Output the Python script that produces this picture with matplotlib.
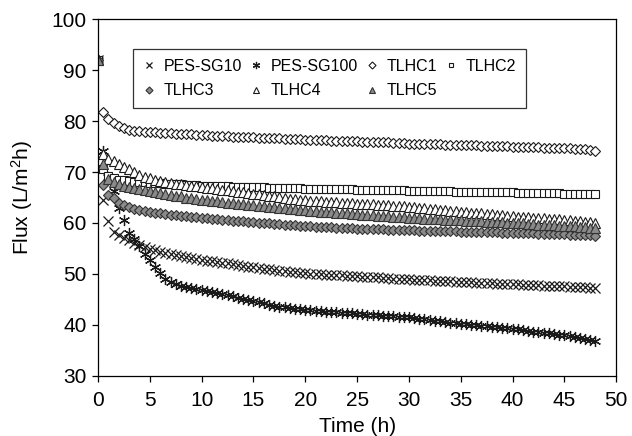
import numpy as np
import matplotlib.pyplot as plt

plt.rcParams['font.family'] = ['Liberation Sans', 'DejaVu Sans']
plt.rcParams['mathtext.fontset'] = 'custom'
plt.rcParams['mathtext.rm'] = 'Liberation Sans'
plt.rcParams['mathtext.default'] = 'regular'

# sampled every 0.5 h from 0 to 48 h
hours = np.arange(0, 48.5, 0.5)

pes_sg10 = [92.0, 64.5, 60.3, 58.2, 57.6, 57.1, 56.6, 56.1, 55.6, 55.2,
            54.9, 54.6, 54.3, 54.1, 53.9, 53.7, 53.5, 53.3, 53.1, 52.9,
            52.8, 52.6, 52.5, 52.4, 52.2, 52.1, 51.9, 51.8, 51.6, 51.4,
            51.3, 51.2, 51.0, 50.9, 50.7, 50.6, 50.5, 50.4, 50.3, 50.2,
            50.1, 50.0, 50.0, 49.9, 49.8, 49.8, 49.7, 49.7, 49.6, 49.6,
            49.5, 49.4, 49.4, 49.3, 49.3, 49.2, 49.2, 49.1, 49.1, 49.0,
            49.0, 48.9, 48.9, 48.8, 48.8, 48.7, 48.7, 48.6, 48.6, 48.5,
            48.5, 48.4, 48.4, 48.3, 48.3, 48.2, 48.2, 48.1, 48.1, 48.0,
            48.0, 48.0, 47.9, 47.9, 47.8, 47.8, 47.7, 47.7, 47.7, 47.6,
            47.6, 47.5, 47.5, 47.4, 47.4, 47.3, 47.2]

pes_sg100 = [92.0, 74.2, 69.0, 66.3, 62.9, 60.6, 58.0, 56.8, 55.4, 54.0,
             52.7, 51.3, 50.1, 49.1, 48.4, 48.0, 47.6, 47.4, 47.2, 47.0,
             46.8, 46.6, 46.4, 46.2, 46.0, 45.8, 45.6, 45.3, 45.1, 44.9,
             44.6, 44.4, 44.2, 44.0, 43.8, 43.6, 43.5, 43.3, 43.2, 43.1,
             43.0, 42.9, 42.8, 42.7, 42.6, 42.5, 42.5, 42.4, 42.3, 42.3,
             42.2, 42.1, 42.0, 42.0, 41.9, 41.8, 41.8, 41.7, 41.6, 41.6,
             41.5, 41.3, 41.2, 41.1, 40.9, 40.8, 40.7, 40.6, 40.4, 40.3,
             40.2, 40.1, 40.0, 39.9, 39.8, 39.7, 39.6, 39.5, 39.4, 39.3,
             39.2, 39.1, 39.0, 38.8, 38.7, 38.6, 38.5, 38.4, 38.3, 38.1,
             38.0, 37.9, 37.7, 37.5, 37.3, 37.1, 36.9]

tlhc1 = [92.0, 81.8, 80.4, 79.6, 79.0, 78.6, 78.3, 78.1, 78.0, 77.9,
         77.8, 77.8, 77.7, 77.6, 77.6, 77.5, 77.5, 77.4, 77.4, 77.3,
         77.2, 77.2, 77.1, 77.1, 77.0, 77.0, 76.9, 76.9, 76.9, 76.8,
         76.8, 76.7, 76.7, 76.7, 76.6, 76.6, 76.5, 76.5, 76.4, 76.4,
         76.3, 76.3, 76.3, 76.2, 76.2, 76.1, 76.1, 76.1, 76.0, 76.0,
         76.0, 75.9, 75.9, 75.9, 75.8, 75.8, 75.8, 75.7, 75.7, 75.7,
         75.6, 75.6, 75.6, 75.5, 75.5, 75.5, 75.5, 75.4, 75.4, 75.4,
         75.3, 75.3, 75.3, 75.3, 75.2, 75.2, 75.2, 75.1, 75.1, 75.1,
         75.0, 75.0, 75.0, 74.9, 74.9, 74.9, 74.8, 74.8, 74.8, 74.7,
         74.7, 74.7, 74.6, 74.6, 74.5, 74.4, 74.2]

tlhc2 = [92.0, 70.5, 69.3, 68.8, 68.5, 68.4, 68.2, 68.1, 68.0, 68.0,
         67.9, 67.8, 67.8, 67.7, 67.7, 67.6, 67.6, 67.5, 67.5, 67.4,
         67.3, 67.3, 67.3, 67.2, 67.2, 67.2, 67.1, 67.1, 67.1, 67.0,
         67.0, 67.0, 67.0, 66.9, 66.9, 66.9, 66.9, 66.8, 66.8, 66.8,
         66.7, 66.7, 66.7, 66.7, 66.7, 66.6, 66.6, 66.6, 66.6, 66.6,
         66.5, 66.5, 66.5, 66.5, 66.5, 66.4, 66.4, 66.4, 66.4, 66.4,
         66.3, 66.3, 66.3, 66.3, 66.2, 66.2, 66.2, 66.2, 66.2, 66.1,
         66.1, 66.1, 66.1, 66.1, 66.1, 66.0, 66.0, 66.0, 66.0, 66.0,
         66.0, 65.9, 65.9, 65.9, 65.9, 65.8, 65.8, 65.8, 65.8, 65.8,
         65.7, 65.7, 65.7, 65.7, 65.7, 65.6, 65.6]

tlhc3 = [92.0, 67.5, 65.5, 64.9, 64.0, 63.5, 63.1, 62.8, 62.6, 62.4,
         62.2, 62.0, 61.9, 61.7, 61.6, 61.5, 61.4, 61.3, 61.2, 61.1,
         61.0, 60.9, 60.8, 60.7, 60.6, 60.5, 60.4, 60.3, 60.3, 60.2,
         60.1, 60.0, 60.0, 59.9, 59.8, 59.8, 59.7, 59.6, 59.6, 59.5,
         59.4, 59.4, 59.3, 59.3, 59.2, 59.2, 59.1, 59.1, 59.0, 59.0,
         58.9, 58.9, 58.9, 58.8, 58.8, 58.8, 58.7, 58.7, 58.7, 58.6,
         58.6, 58.6, 58.5, 58.5, 58.5, 58.5, 58.4, 58.4, 58.4, 58.4,
         58.3, 58.3, 58.3, 58.3, 58.2, 58.2, 58.2, 58.2, 58.1, 58.1,
         58.1, 58.1, 58.0, 58.0, 58.0, 57.9, 57.9, 57.9, 57.8, 57.8,
         57.8, 57.7, 57.7, 57.7, 57.6, 57.6, 57.5]

tlhc4 = [92.0, 73.5, 72.6, 72.1, 71.6, 71.0, 70.5, 70.0, 69.5, 69.1,
         68.8, 68.5, 68.3, 68.1, 67.9, 67.7, 67.6, 67.4, 67.3, 67.2,
         67.1, 66.9, 66.8, 66.6, 66.5, 66.4, 66.2, 66.1, 66.0, 65.8,
         65.7, 65.6, 65.5, 65.3, 65.2, 65.1, 65.0, 64.8, 64.7, 64.6,
         64.5, 64.4, 64.4, 64.3, 64.2, 64.2, 64.1, 64.0, 64.0, 63.9,
         63.8, 63.8, 63.7, 63.7, 63.6, 63.5, 63.5, 63.4, 63.4, 63.3,
         63.2, 63.1, 63.0, 62.9, 62.8, 62.7, 62.6, 62.5, 62.4, 62.3,
         62.2, 62.1, 62.0, 62.0, 61.9, 61.8, 61.7, 61.6, 61.5, 61.4,
         61.3, 61.2, 61.2, 61.1, 61.0, 60.9, 60.9, 60.8, 60.7, 60.7,
         60.6, 60.5, 60.4, 60.3, 60.2, 60.1, 60.0]

tlhc5 = [92.0, 71.5, 68.6, 68.0, 67.6, 67.3, 67.1, 66.8, 66.6, 66.4,
         66.2, 66.0, 65.8, 65.6, 65.5, 65.3, 65.2, 65.0, 64.9, 64.8,
         64.6, 64.5, 64.4, 64.3, 64.2, 64.0, 63.9, 63.8, 63.7, 63.6,
         63.5, 63.4, 63.3, 63.2, 63.1, 63.0, 62.9, 62.8, 62.7, 62.6,
         62.5, 62.4, 62.3, 62.2, 62.2, 62.1, 62.0, 61.9, 61.9, 61.8,
         61.7, 61.6, 61.6, 61.5, 61.4, 61.4, 61.3, 61.2, 61.2, 61.1,
         61.0, 61.0, 60.9, 60.8, 60.8, 60.7, 60.7, 60.6, 60.6, 60.5,
         60.5, 60.4, 60.4, 60.3, 60.3, 60.2, 60.2, 60.1, 60.1, 60.0,
         60.0, 59.9, 59.9, 59.8, 59.8, 59.7, 59.7, 59.6, 59.6, 59.5,
         59.5, 59.4, 59.4, 59.3, 59.2, 59.1, 59.0]

fig = plt.figure(figsize=(6.32, 4.36), dpi=100)
ax = fig.add_axes([0.155, 0.138, 0.82, 0.818])

gray = "#8a8a8a"
edge = "#1a1a1a"
star = (6, 2, 0)  # asterisk-like marker

h1, = ax.plot(hours, pes_sg10, ls="none", marker="x", ms=7, mew=0.9, color=edge, label="PES-SG10")
h2, = ax.plot(hours, pes_sg100, ls="none", marker=star, ms=8, mew=0.9, color=edge, label="PES-SG100")
h3, = ax.plot(hours, tlhc1, ls="none", marker="D", ms=5.5, mew=0.8, mfc="white", mec=edge, label="TLHC1")
h4, = ax.plot(hours, tlhc2, ls="none", marker="s", ms=5.5, mew=0.8, mfc="white", mec=edge, label="TLHC2")
h5, = ax.plot(hours, tlhc3, ls="none", marker="D", ms=5.5, mew=0.8, mfc=gray, mec="#333333", label="TLHC3")
h6, = ax.plot(hours, tlhc4, ls="none", marker="^", ms=7, mew=0.8, mfc="white", mec=edge, label="TLHC4")
h7, = ax.plot(hours, tlhc5, ls="none", marker="^", ms=7, mew=0.8, mfc=gray, mec="#333333", label="TLHC5")

ax.set_xlim(0, 50)
ax.set_ylim(30, 100)
ax.set_xticks(np.arange(0, 51, 5))
ax.set_yticks(np.arange(30, 101, 10))
ax.tick_params(direction="out", length=4, width=0.9, labelsize=15)
ax.tick_params(axis="x", pad=7)
ax.tick_params(axis="y", pad=4)
for s in ax.spines.values():
    s.set_linewidth(0.9)

ax.set_xlabel("Time (h)", fontsize=15, labelpad=5)
ax.set_ylabel("Flux (L/m$^2$h)", fontsize=15, labelpad=12)

# reorder so the legend fills row by row
order = [h1, h5, h2, h6, h3, h7, h4]
leg = ax.legend(handles=order, labels=[h.get_label() for h in order], ncol=4,
                loc="upper left", bbox_to_anchor=(0.0676, 0.916),
                fontsize=11.5, frameon=True, fancybox=False, edgecolor="black",
                handlelength=0.8, handletextpad=0.5, columnspacing=0.5,
                borderpad=0.6, labelspacing=0.6, markerscale=0.65, borderaxespad=0)
leg.get_frame().set_linewidth(0.9)

fig.savefig("out.png", dpi=100)
